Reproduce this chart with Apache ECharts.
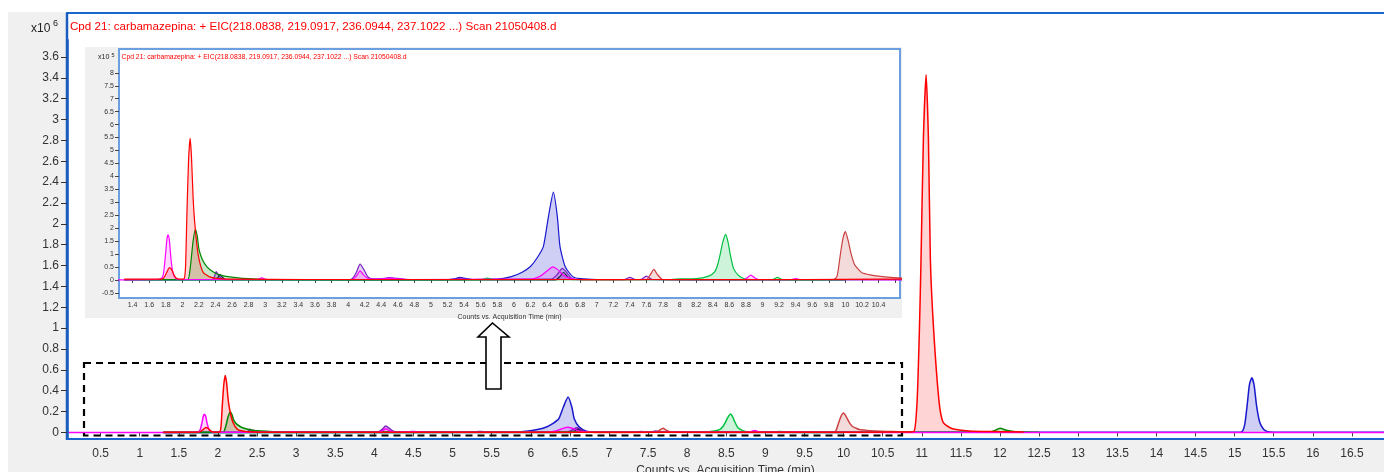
<!DOCTYPE html>
<html><head><meta charset="utf-8">
<script src="https://cdn.jsdelivr.net/npm/echarts@6/dist/echarts.min.js"></script>
<style>html,body{margin:0;padding:0;background:#fff}#c{width:1384px;height:472px}</style>
</head><body><div id="c"></div>
<script>
// ---- tick labels ----
const mainXTicks = [0.5,1,1.5,2,2.5,3,3.5,4,4.5,5,5.5,6,6.5,7,7.5,8,8.5,9,9.5,10,10.5,11,11.5,12,12.5,13,13.5,14,14.5,15,15.5,16,16.5];
const mainYTicks = [0,0.2,0.4,0.6,0.8,1,1.2,1.4,1.6,1.8,2,2.2,2.4,2.6,2.8,3,3.2,3.4,3.6];
const insetXTicks = [1.4,1.6,1.8,2,2.2,2.4,2.6,2.8,3,3.2,3.4,3.6,3.8,4,4.2,4.4,4.6,4.8,5,5.2,5.4,5.6,5.8,6,6.2,6.4,6.6,6.8,7,7.2,7.4,7.6,7.8,8,8.2,8.4,8.6,8.8,9,9.2,9.4,9.6,9.8,10,10.2,10.4,10.6];
const insetXLabels = [1.4,1.6,1.8,2,2.2,2.4,2.6,2.8,3,3.2,3.4,3.6,3.8,4,4.2,4.4,4.6,4.8,5,5.2,5.4,5.6,5.8,6,6.2,6.4,6.6,6.8,7,7.2,7.4,7.6,7.8,8,8.2,8.4,8.6,8.8,9,9.2,9.4,9.6,9.8,10,10.2,10.4];
const insetYTicks = [-0.5,0,0.5,1,1.5,2,2.5,3,3.5,4,4.5,5,5.5,6,6.5,7,7.5,8];

// ---- EIC traces: [time (min), counts x10^5] ----
const traceRed = [[1.3,0.03],[1.7,0.03],[1.77,0.06],[1.81,0.28],[1.845,0.48],[1.875,0.38],[1.905,0.16],[1.94,0.05],[2.0,0.03],[2.025,0.06],[2.04,0.6],[2.055,2.5],[2.075,4.6],[2.094,5.47],[2.11,4.8],[2.13,3.2],[2.15,2.2],[2.19,1.0],[2.25,0.3],[2.33,0.12],[2.45,0.05],[2.6,0.03],[3.5,0.02],[5.0,0.02],[6.5,0.02],[8.0,0.02],[9.5,0.02],[10.4,0.03],[10.8,0.05],[10.9,0.1],[10.94,3],[10.97,10],[10.99,16.5],[11.02,28],[11.055,34.3],[11.085,28],[11.11,16.5],[11.15,10],[11.22,3],[11.27,1.0],[11.35,0.5],[11.42,0.3],[11.6,0.15],[12.0,0.08],[12.3,0.05]];
const traceGreen = [[1.3,0.02],[2.0,0.02],[2.07,0.03],[2.1,0.6],[2.13,1.5],[2.158,1.96],[2.18,1.7],[2.2,1.2],[2.24,0.8],[2.3,0.5],[2.38,0.3],[2.45,0.2],[2.55,0.13],[2.7,0.07],[2.85,0.04],[3.0,0.02],[5.0,0.01],[8.0,0.01],[11.0,0.02],[11.85,0.03],[11.92,0.15],[12.0,0.4],[12.08,0.22],[12.2,0.06],[12.4,0.03],[12.5,0.02]];
const traceMagenta = [[0.05,0.0],[1.0,0.0],[1.68,0.02],[1.74,0.05],[1.77,0.2],[1.795,0.9],[1.815,1.6],[1.829,1.74],[1.845,1.5],[1.862,0.85],[1.885,0.3],[1.92,0.06],[1.96,0.02],[2.9,0.02],[2.96,0.08],[3.02,0.02],[4.05,0.02],[4.1,0.15],[4.145,0.35],[4.2,0.15],[4.27,0.03],[4.4,0.04],[4.5,0.07],[4.6,0.04],[4.75,0.02],[6.2,0.03],[6.32,0.15],[6.4,0.35],[6.47,0.51],[6.53,0.4],[6.6,0.18],[6.68,0.06],[6.8,0.02],[8.78,0.02],[8.82,0.1],[8.86,0.19],[8.9,0.1],[8.96,0.02],[9.35,0.02],[9.4,0.05],[9.45,0.02],[12.0,0.0],[16.95,0.0]];
const traceBlue = [[1.3,0.0],[5.2,0.01],[5.28,0.04],[5.35,0.1],[5.42,0.05],[5.5,0.02],[5.8,0.03],[5.97,0.13],[6.1,0.3],[6.2,0.52],[6.28,0.85],[6.356,1.29],[6.417,2.44],[6.477,3.39],[6.525,2.44],[6.557,1.29],[6.62,0.51],[6.71,0.13],[6.8,0.05],[7.0,0.02],[9.0,0.01],[15.0,0.01],[15.09,0.05],[15.13,0.8],[15.16,2.6],[15.19,4.6],[15.22,5.25],[15.25,4.5],[15.28,2.6],[15.32,1.0],[15.37,0.3],[15.42,0.08],[15.5,0.03],[16.95,0.01]];
const tracePurple = [[1.3,0.0],[2.36,0.01],[2.39,0.15],[2.408,0.32],[2.43,0.22],[2.47,0.06],[2.52,0.01],[4.0,0.01],[4.05,0.05],[4.1,0.3],[4.145,0.61],[4.19,0.4],[4.24,0.12],[4.3,0.04],[4.4,0.05],[4.5,0.09],[4.6,0.06],[4.72,0.02],[5.3,0.02],[5.36,0.08],[5.42,0.02],[6.45,0.03],[6.52,0.2],[6.585,0.45],[6.63,0.32],[6.69,0.08],[6.76,0.01],[7.33,0.01],[7.4,0.1],[7.47,0.02],[7.54,0.03],[7.6,0.15],[7.67,0.02],[9.0,0.0],[10.0,0.0]];
const traceNavy = [[2.4,0.0],[2.43,0.1],[2.455,0.22],[2.48,0.12],[2.52,0.02],[6.5,0.0],[6.56,0.15],[6.6,0.3],[6.65,0.12],[6.72,0.0]];
const traceBrown = [[6.8,0.0],[7.6,0.01],[7.645,0.2],[7.69,0.41],[7.73,0.22],[7.79,0.03],[7.9,0.01],[9.86,0.02],[9.9,0.15],[9.94,1.0],[9.97,1.6],[10.0,1.87],[10.035,1.5],[10.07,1.0],[10.11,0.6],[10.16,0.4],[10.2,0.28],[10.3,0.2],[10.4,0.15],[10.55,0.1],[10.7,0.07],[10.9,0.04]];
const traceLime = [[1.3,0.0],[5.6,0.01],[5.68,0.07],[5.76,0.02],[7.9,0.02],[8.0,0.04],[8.2,0.05],[8.35,0.15],[8.42,0.3],[8.46,0.6],[8.49,1.0],[8.52,1.45],[8.556,1.76],[8.585,1.45],[8.61,1.0],[8.65,0.45],[8.71,0.18],[8.78,0.05],[8.85,0.02],[9.12,0.02],[9.18,0.1],[9.24,0.02],[10.0,0.0]];

const traces = [
  {line:'#1818cc', fill:'rgba(30,30,210,0.3)', data:traceBlue},
  {line:'#7a20c0', fill:'rgba(130,40,200,0.3)', data:tracePurple},
  {line:'#202050', fill:'rgba(40,40,90,0.25)', data:traceNavy},
  {line:'#00c040', fill:'rgba(0,200,70,0.28)', data:traceLime},
  {line:'#cc4040', fill:'rgba(200,70,70,0.28)', data:traceBrown},
  {line:'#008800', fill:'rgba(0,140,0,0.3)', data:traceGreen},
  {line:'#ff00ff', fill:'rgba(255,0,255,0.22)', data:traceMagenta},
  {line:'#ff0000', fill:'rgba(255,0,0,0.24)', data:traceRed}
];

const FONT = 'Liberation Sans';
const series = [];
traces.forEach(t => {
  series.push({type:'line', xAxisIndex:0, yAxisIndex:0, z:3, symbol:'none', smooth:0.2,
    data:t.data.map(p => [p[0], p[1] / 10]), lineStyle:{color:t.line, width:1.5, join:'round'}, itemStyle:{color:t.line},
    areaStyle:{color:t.fill}, silent:true});
});
traces.forEach(t => {
  series.push({type:'line', xAxisIndex:1, yAxisIndex:1, z:23, symbol:'none', smooth:0.2,
    data:t.data.map(p => [p[0], p[1]]), lineStyle:{color:t.line, width:1.2, join:'round'}, itemStyle:{color:t.line},
    areaStyle:{color:t.fill}, silent:true});
});

const chart = echarts.init(document.getElementById('c'));
chart.setOption({
  animation:false,
  backgroundColor:'#ffffff',
  grid:[
    {left:67, top:40, right:0, bottom:34, outerBoundsMode:'none', containLabel:false},
    {left:119, top:49, width:781, height:249, show:true, backgroundColor:'#ffffff', borderColor:'#6b9fe0', borderWidth:2, z:20, outerBoundsMode:'none', containLabel:false}
  ],
  xAxis:[
    {type:'value', gridIndex:0, min:0.07, max:16.91, offset:4,
      axisLine:{lineStyle:{color:'#55657c', width:1}},
      axisTick:{customValues:mainXTicks, length:4, lineStyle:{color:'#444'}},
      axisLabel:{customValues:mainXTicks, color:'#333', fontSize:12, fontFamily:FONT, margin:6},
      splitLine:{show:false},
      name:'Counts vs. Acquisition Time (min)', nameLocation:'middle', nameGap:19,
      nameTextStyle:{color:'#333', fontSize:12, fontFamily:FONT}},
    {type:'value', gridIndex:1, min:1.236, max:10.659, z:22,
      axisLine:{show:false},
      axisTick:{customValues:insetXTicks, length:3, lineStyle:{color:'#444'}},
      axisLabel:{customValues:insetXLabels, color:'#333', fontSize:7, fontFamily:FONT, margin:4},
      splitLine:{show:false},
      name:'Counts vs. Acquisition Time (min)', nameLocation:'middle', nameGap:12,
      nameTextStyle:{color:'#333', fontSize:7, fontFamily:FONT}}
  ],
  yAxis:[
    {type:'value', gridIndex:0, min:-0.053, max:3.762, z:6,
      axisLine:{show:true, lineStyle:{color:'#1a5cc0', width:2.5}},
      axisTick:{show:true, customValues:mainYTicks, length:6, lineStyle:{color:'#333', width:1}},
      axisLabel:{customValues:mainYTicks, color:'#333', fontSize:12, fontFamily:FONT, margin:8},
      splitLine:{show:false}},
    {type:'value', gridIndex:1, min:-0.695, max:8.919, z:22,
      axisLine:{show:false},
      axisTick:{show:true, customValues:insetYTicks, length:4, lineStyle:{color:'#444'}},
      axisLabel:{customValues:insetYTicks, color:'#333', fontSize:7, fontFamily:FONT, margin:5},
      splitLine:{show:false}}
  ],
  graphic:[
    {type:'rect', z:-10, silent:true, shape:{x:8, y:12, width:1376, height:460}, style:{fill:'#f0f0f0'}},
    {type:'rect', z:-9, silent:true, shape:{x:67, y:13, width:1317, height:426}, style:{fill:'#ffffff'}},
    {type:'line', z:5, silent:true, shape:{x1:66, y1:13, x2:1384, y2:13}, style:{stroke:'#1b66cc', lineWidth:2}},
    {type:'line', z:5, silent:true, shape:{x1:67, y1:13, x2:67, y2:440}, style:{stroke:'#1a5cc0', lineWidth:2.5}},
    {type:'line', z:5, silent:true, shape:{x1:66, y1:439, x2:1384, y2:439}, style:{stroke:'#1b66cc', lineWidth:2}},
    {type:'text', z:30, silent:true, style:{x:70, y:26.5, text:'Cpd 21: carbamazepina: + EIC(218.0838, 219.0917, 236.0944, 237.1022 ...) Scan 21050408.d', fill:'#ff0000', font:'11.6px "Liberation Sans"', verticalAlign:'middle', align:'left'}},
    {type:'text', z:30, silent:true, style:{x:31, y:28.5, text:'x10', fill:'#222', font:'12px "Liberation Sans"', verticalAlign:'middle', align:'left'}},
    {type:'text', z:30, silent:true, style:{x:53, y:24, text:'6', fill:'#222', font:'9px "Liberation Sans"', verticalAlign:'middle', align:'left'}},
    // inset panel
    {type:'rect', z:19, silent:true, shape:{x:85, y:47, width:817, height:271}, style:{fill:'#f0f0f0'}},
    {type:'text', z:30, silent:true, style:{x:121.5, y:57.5, text:'Cpd 21: carbamazepina: + EIC(218.0838, 219.0917, 236.0944, 237.1022 ...) Scan 21050408.d', fill:'#ff0000', font:'6.8px "Liberation Sans"', verticalAlign:'middle', align:'left'}},
    {type:'text', z:30, silent:true, style:{x:98, y:57.5, text:'x10', fill:'#222', font:'7px "Liberation Sans"', verticalAlign:'middle', align:'left'}},
    {type:'text', z:30, silent:true, style:{x:111.5, y:55, text:'5', fill:'#222', font:'5.5px "Liberation Sans"', verticalAlign:'middle', align:'left'}},
    // dashed zoom box and arrow
    {type:'rect', z:15, silent:true, shape:{x:84, y:363, width:818, height:72.5}, style:{fill:null, stroke:'#000', lineWidth:2.2, lineDash:[7,5]}},
    {type:'polygon', z:16, silent:true, shape:{points:[[492.5,323],[509,337],[501,337],[501,389],[486,389],[486,337],[478,337]]}, style:{fill:'#ffffff', stroke:'#000', lineWidth:1.6}}
  ],
  series: series
});
</script>
</body></html>
